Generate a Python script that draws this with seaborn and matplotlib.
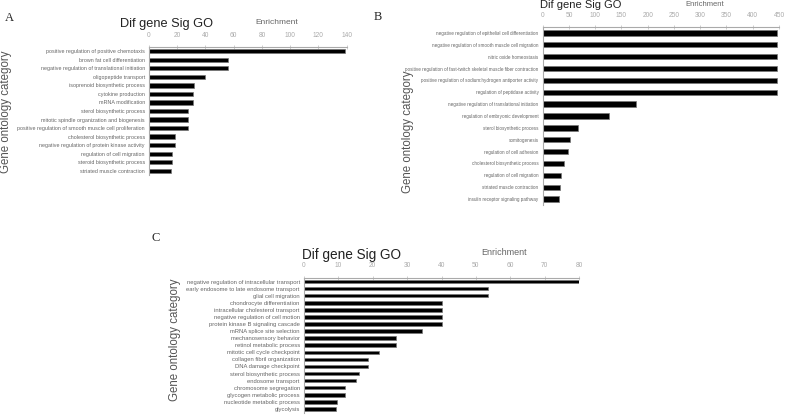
import pandas as pd
import matplotlib
matplotlib.use("Agg")
import matplotlib.pyplot as plt
import seaborn as sns

# Panel A
terms_a = [
    "positive regulation of positive chemotaxis",
    "brown fat cell differentiation",
    "negative regulation of translational initiation",
    "oligopeptide transport",
    "isoprenoid biosynthetic process",
    "cytokine production",
    "mRNA modification",
    "sterol biosynthetic process",
    "mitotic spindle organization and biogenesis",
    "positive regulation of smooth muscle cell proliferation",
    "cholesterol biosynthetic process",
    "negative regulation of protein kinase activity",
    "regulation of cell migration",
    "steroid biosynthetic process",
    "striated muscle contraction",
]
enrich_a = [139, 55.6, 55.6, 39.7, 31.9, 30.9, 30.9, 27.9, 27.9, 27.9, 18.5, 18.5, 16.5, 16.5, 15.9]
ticks_a = [0, 20, 40, 60, 80, 100, 120, 140]

# Panel B
terms_b = [
    "negative regulation of epithelial cell differentiation",
    "negative regulation of smooth muscle cell migration",
    "nitric oxide homeostasis",
    "positive regulation of fast-twitch skeletal muscle fiber contraction",
    "positive regulation of sodium:hydrogen antiporter activity",
    "regulation of peptidase activity",
    "negative regulation of translational initiation",
    "regulation of embryonic development",
    "sterol biosynthetic process",
    "somitogenesis",
    "regulation of cell adhesion",
    "cholesterol biosynthetic process",
    "regulation of cell migration",
    "striated muscle contraction",
    "insulin receptor signaling pathway",
]
enrich_b = [446, 446, 446, 446, 446, 446, 178, 127, 66.5, 52.6, 48.8, 40.6, 35.5, 33.6, 30.4]
ticks_b = [0, 50, 100, 150, 200, 250, 300, 350, 400, 450]

# Panel C
terms_c = [
    "negative regulation of intracellular transport",
    "early endosome to late endosome transport",
    "glial cell migration",
    "chondrocyte differentiation",
    "intracellular cholesterol transport",
    "negative regulation of cell motion",
    "protein kinase B signaling cascade",
    "mRNA splice site selection",
    "mechanosensory behavior",
    "retinol metabolic process",
    "mitotic cell cycle checkpoint",
    "collagen fibril organization",
    "DNA damage checkpoint",
    "sterol biosynthetic process",
    "endosome transport",
    "chromosome segregation",
    "glycogen metabolic process",
    "nucleotide metabolic process",
    "glycolysis",
]
enrich_c = [80.3, 53.6, 53.6, 40.1, 40.1, 40.1, 40.1, 34.4, 26.8, 26.8, 21.9, 18.5, 18.5, 16.0, 15.1, 12.0, 12.0, 9.7, 9.4]
ticks_c = [0, 10, 20, 30, 40, 50, 60, 70, 80]

sns.set_style("white")
plt.rcParams['font.family'] = ['Liberation Sans', 'DejaVu Sans']

fig = plt.figure(figsize=(7.87, 4.15), dpi=100)


def draw_panel(rect, terms, values, ticks, label_size, bar_w, tick_pad):
    ax = fig.add_axes(rect)
    df = pd.DataFrame({"term": terms, "enrichment": values})
    sns.barplot(data=df, x="enrichment", y="term", orient="h", color="black",
                width=bar_w, edgecolor="#777777", linewidth=0.5, ax=ax)
    ax.set_xlim(ticks[0], ticks[-1])
    ax.set_xticks(ticks)
    ax.xaxis.tick_top()
    ax.set_xlabel("")
    ax.set_ylabel("")
    ax.tick_params(axis="x", labelsize=4.8, colors="#bbbbbb", length=3, width=0.5,
                   direction="inout", pad=tick_pad, labelcolor="#aaaaaa")
    ax.tick_params(axis="y", labelsize=label_size, length=0, pad=3, labelcolor="#666666")
    for s in ["right", "bottom"]:
        ax.spines[s].set_visible(False)
    for s in ["left", "top"]:
        ax.spines[s].set_color("#aaaaaa")
        ax.spines[s].set_linewidth(0.8)
    ax.grid(False)
    return ax


# Panel A
draw_panel([149 / 787, 1 - 175 / 415, 197.7 / 787, 128 / 415], terms_a, enrich_a, ticks_a, 3.9, 0.5, 4)
fig.text(5 / 787, 1 - 18 / 415, "A", family="Liberation Serif", fontsize=9, va="center")
fig.text(120 / 787, 1 - 24 / 415, "Dif gene Sig GO", fontsize=9.2,
         va="center", color="#222222")
fig.text(255 / 787, 1 - 23 / 415, "Enrichment", fontsize=6, va="center", color="#666666")
fig.text(6 / 787, 1 - 112 / 415, "Gene ontology category", fontsize=8.3,
         rotation=90, va="center", ha="center", color="#555555")

# Panel B
draw_panel([542.7 / 787, 1 - 205 / 415, 236.3 / 787, 178 / 415], terms_b, enrich_b, ticks_b, 3.3, 0.45, 4.3)
fig.text(374 / 787, 1 - 17 / 415, "B", family="Liberation Serif", fontsize=9, va="center")
fig.text(540 / 787, 1 - 5 / 415, "Dif gene Sig GO", fontsize=8,
         va="center", color="#222222")
fig.text(685 / 787, 1 - 5 / 415, "Enrichment", fontsize=5.5, va="center", color="#666666")
fig.text(408 / 787, 1 - 132 / 415, "Gene ontology category", fontsize=8.3,
         rotation=90, va="center", ha="center", color="#555555")

# Panel C
draw_panel([304 / 787, 1 - 412.5 / 415, 275 / 787, 134.5 / 415], terms_c, enrich_c, ticks_c, 4.2, 0.5, 5)
fig.text(152 / 787, 1 - 238 / 415, "C", family="Liberation Serif", fontsize=9, va="center")
fig.text(302 / 787, 1 - 255 / 415, "Dif gene Sig GO", fontsize=9.8,
         va="center", color="#222222")
fig.text(481 / 787, 1 - 252 / 415, "Enrichment", fontsize=6.5, va="center", color="#666666")
fig.text(175 / 787, 1 - 340 / 415, "Gene ontology category", fontsize=8.3,
         rotation=90, va="center", ha="center", color="#555555")

fig.savefig("out.png", dpi=100, facecolor="white")
